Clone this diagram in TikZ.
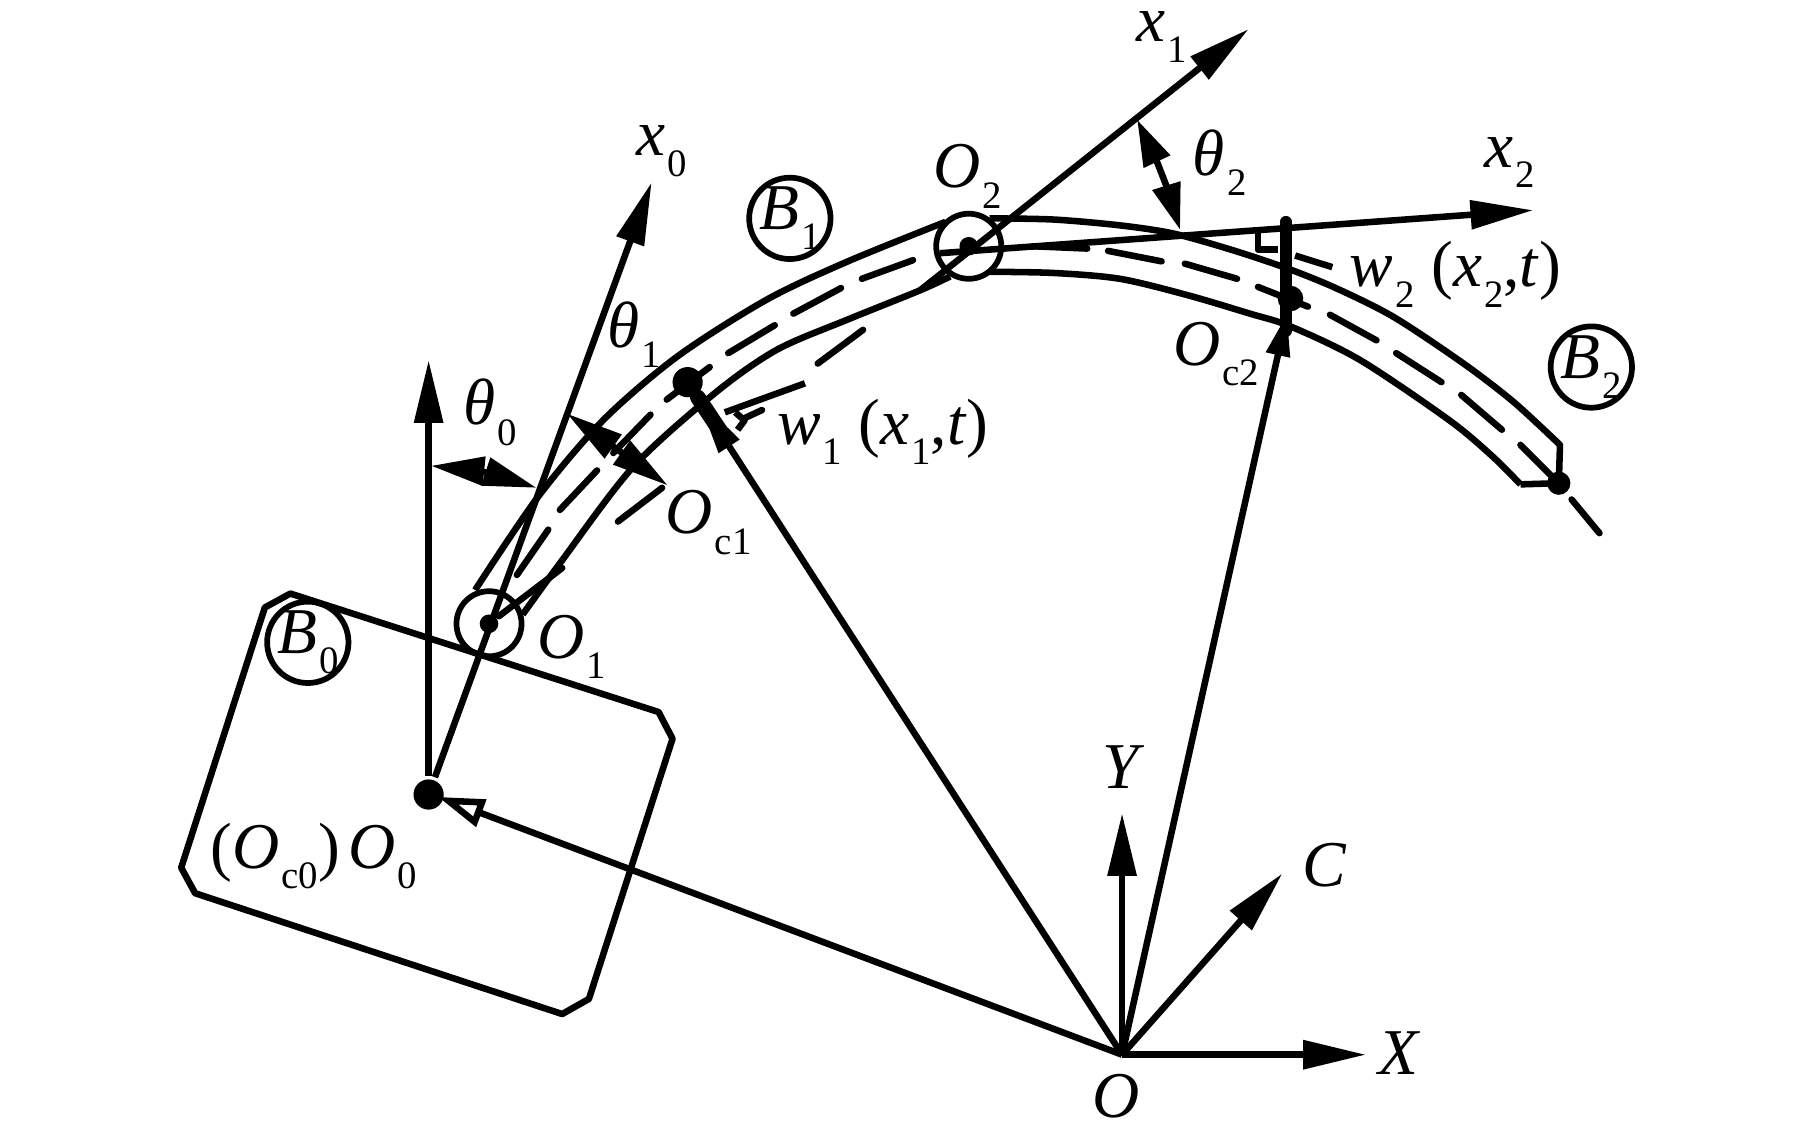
\documentclass[tikz,border=0pt]{standalone}
\usepackage{fontspec}
\setmainfont{Liberation Serif}
\usetikzlibrary{arrows.meta}
\newcommand{\lab}[2]{\textit{#1}\hspace{0.5pt}\raisebox{-5pt}{\fontsize{9.5}{10}\selectfont #2}}
\begin{document}
\begin{tikzpicture}[x=0.01cm,y=-0.01cm,line width=1.6pt,line join=round,
    main/.style = {draw, circle, line width=1.4pt, inner sep=0pt, minimum size=0.7cm},
    joint/.style = {draw, circle, line width=1.4pt, inner sep=0pt, minimum size=0.56cm},
    txt/.style = {font=\fontsize{16}{18}\selectfont, inner sep=0pt},
    axis/.style = {-{Triangle[length=5.4mm,width=2.4mm]}},
    angle/.style = {{Triangle[length=#1,width=2.4mm]}-{Triangle[length=#1,width=2.4mm]}},
    hollow/.style = {-{Triangle[open,length=4mm,width=2.4mm,fill=white]}},
    thickhead/.style = {-{Triangle[length=#1,width=2mm]}},
    segdash/.style = {line width=1.6pt, line cap=round},
    tick/.style = {line width=#1, line cap=round},
    dot/.style = {fill, circle, inner sep=0pt, minimum size=#1}]
    \useasboundingbox (0,0) rectangle (1566,971.9);

    % frame
    \coordinate (O) at (966,908);
    \coordinate (X) at (1176,908);
    \coordinate (Y) at (966,700);
    \coordinate (C) at (1104,752);
    \draw[axis] (O) -- (X);
    \draw[axis] (O) -- (Y);
    \draw[axis] (O) -- (C);

    % base body
    \draw (228,523) -- (250,511) -- (567,613) -- (579,636) -- (507,860) -- (484,873) -- (168,769) -- (156,747) -- cycle;

    % link 1
    \draw plot[smooth] coordinates {(409,508) (463,428) (519,362) (583,307) (660,258) (730,225) (814,191)};
    \draw plot[smooth] coordinates {(450,529) (482,485) (545,402) (616,338) (669,301) (730,275) (792,250) (818,238)};
    \foreach \xa/\ya/\xb/\yb in {445/495/472/456, 482/439/514/405, 528/390/560/357, 574/344/611/316, 627/304/667/280, 683/270/724/248, 742/240/786/224}{
        \draw[segdash] (\xa,\ya) -- (\xb,\yb);
    }

    % link 2
    \draw plot[smooth] coordinates {(852,188) (907,189) (964,194) (1010,201) (1060,215) (1108,231) (1150,248) (1200,273) (1260,313) (1303,346) (1343,383)} -- (1342,416) -- (1309,417);
    \draw plot[smooth] coordinates {(852,234) (907,235) (964,240) (1022,254) (1076,270) (1111,281) (1171,310) (1248,362) (1285,393) (1309,417)};
    \foreach \xa/\ya/\xb/\yb in {889/212/936/214, 954/216/1000/225, 1020/227/1065/240, 1083/247/1126/264, 1145/271/1185/293, 1202/304/1241/329, 1258/340/1293/370, 1309/383/1342/416, 1353/430/1377/459}{
        \draw[segdash] (\xa,\ya) -- (\xb,\yb);
    }

    % joints and points
    \node[joint](J1) at (421,537){};
    \node[joint](J2) at (834,212){};
    \node[dot=0.16cm](P1) at (421,537){};
    \node[dot=0.16cm](P2) at (834,212){};
    \node[dot=0.26cm](O0) at (369,684){};
    \node[dot=0.26cm](Pc1) at (592,329){};
    \node[dot=0.22cm](Pc2) at (1111,257){};
    \node[dot=0.2cm](Pe) at (1342,416){};

    % floating axes
    \coordinate (X0) at (561,157);
    \coordinate (X1) at (1075,25);
    \coordinate (X1s) at (792,250);
    \coordinate (X2) at (1320,181);
    \coordinate (X2s) at (809,218);
    \coordinate (T0) at (369,310);
    \draw[axis] (O0) -- (T0);
    \draw[axis] (O0) -- (X0);
    \draw[axis] (X1s) -- (X1);
    \draw[axis] (X2s) -- (X2);
    \draw[segdash] (P1) -- (484,489);
    \draw[segdash] (532,449) -- (570,420);
    \draw[segdash] (641,360) -- (656,353);
    \draw[segdash] (704,313) -- (743,284);

    % position vectors
    \coordinate (O0t) at (377,686);
    \coordinate (W1t) at (620,371);
    \coordinate (W2t) at (1107,191);
    \coordinate (W2b) at (1107,285);
    \draw[hollow] (O) -- (O0t);
    \draw[thickhead=5mm] (O) -- (Pc1);
    \draw[thickhead=3.6mm] (O) -- (Pc2);

    % deflections
    \draw[tick=2.9pt] (W2t) -- (W2b);
    \draw[tick=3.8pt] (Pc1) -- (W1t);
    \draw (635,370) -- (641,362) -- (633,355);
    \draw (624,355) -- (693,330);
    \draw (1083,199) -- (1083,215) -- (1100,215);
    \draw (1115,220) -- (1147,230);

    % angles
    \draw[angle=4.6mm] (371,401) to[bend left=6] (462,420);
    \draw[angle=4.9mm] (488,356) -- (575,418);
    \draw[angle=4mm] (979,103) to[bend left=4] (1016,198);

    % labels
    \node[main](B0) at (265,553){};
    \node[main](B1) at (680,188){};
    \node[main](B2) at (1370,316){};
    \node[txt](lB0) at (265,553){\lab{B}{0}};
    \node[txt](lB1) at (680,188){\lab{B}{1}};
    \node[txt](lB2) at (1370,316){\lab{B}{2}};
    \node[txt](lx0) at (570,130){\lab{x}{0}};
    \node[txt](lx1) at (1000,32){\lab{x}{1}};
    \node[txt](lx2) at (1300,140){\lab{x}{2}};
    \node[txt](lt0) at (422,355){\lab{θ}{0}};
    \node[txt](lt1) at (546,288){\lab{θ}{1}};
    \node[txt](lt2) at (1050,140){\lab{θ}{2}};
    \node[txt](lO1) at (492,557){\lab{O}{1}};
    \node[txt](lO2) at (833,152){\lab{O}{2}};
    \node[txt](lOc1) at (610,450){\lab{O}{c1}};
    \node[txt](lOc2) at (1047,305){\lab{O}{c2}};
    \node[txt](lw1) at (760,372){\lab{w}{1} (\lab{x}{1},\textit{t})};
    \node[txt](lw2) at (1253,236){\lab{w}{2} (\lab{x}{2},\textit{t})};
    \node[txt](lO0) at (270,737){(\lab{O}{c0})\hspace{2pt}\lab{O}{0}};
    \node[txt](lY) at (967,660){\textit{Y}};
    \node[txt](lC) at (1140,745){\textit{C}};
    \node[txt](lX) at (1205,907){\textit{X}};
    \node[txt](lO) at (961,944){\textit{O}};
\end{tikzpicture}
\end{document}
